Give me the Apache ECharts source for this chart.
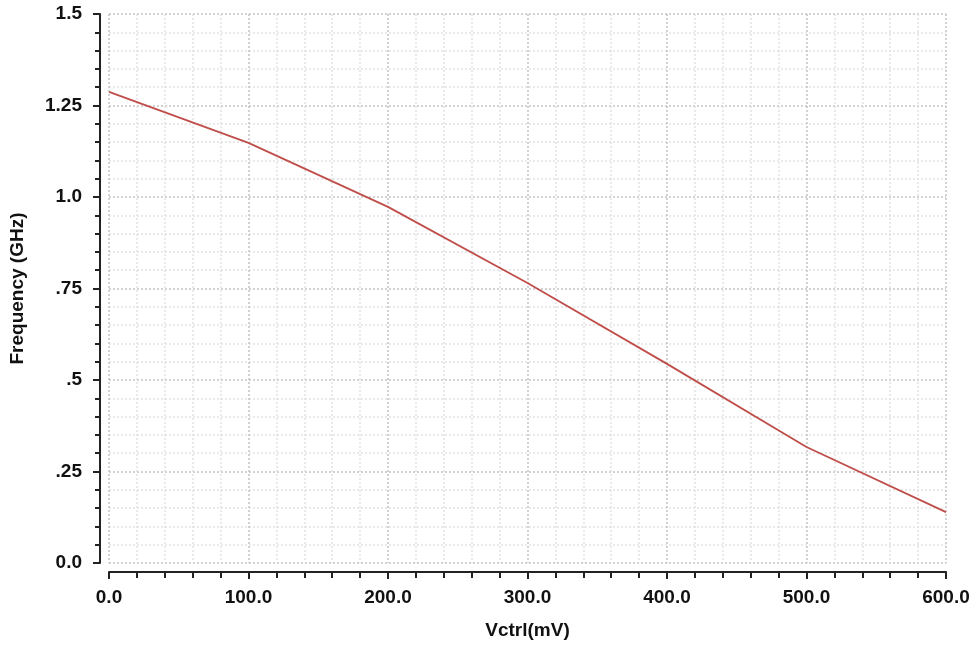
<!DOCTYPE html>
<html><head><meta charset="utf-8">
<script src="https://cdn.jsdelivr.net/npm/echarts@6/dist/echarts.min.js"></script>
<style>html,body{margin:0;padding:0;background:#fff}#c{width:975px;height:648px}</style>
</head><body><div id="c"></div>
<script>
const vctrl = [0, 100, 200, 300, 400, 500, 600];
const freq = [1.287, 1.148, 0.973, 0.765, 0.544, 0.317, 0.139];
const yTickLabels = {"0": "0.0", "0.25": ".25", "0.5": ".5", "0.75": ".75", "1": "1.0", "1.25": "1.25", "1.5": "1.5"};

const font = 'Liberation Sans, Arial, sans-serif';
const textStyle = {fontFamily: font, fontSize: 19, fontWeight: 'bold', color: '#111'};
const chart = echarts.init(document.getElementById('c'));
chart.setOption({
  animation: false,
  grid: {left: 107, right: 29, top: 14, bottom: 85},
  xAxis: {
    type: 'value', min: 0, max: 600, interval: 100, offset: 9,
    name: 'Vctrl(mV)', nameLocation: 'middle', nameGap: 49, nameMoveOverlap: false,
    nameTextStyle: textStyle,
    axisLine: {show: true, onZero: false, lineStyle: {color: '#222', width: 2}},
    axisTick: {show: true, length: 7, lineStyle: {color: '#222', width: 2}},
    minorTick: {show: true, splitNumber: 5, length: 6, lineStyle: {color: '#222', width: 2}},
    axisLabel: Object.assign({margin: 16, formatter: v => v.toFixed(1)}, textStyle),
    splitLine: {show: true, lineStyle: {color: '#c4c4c4', type: [2, 2], width: 1.5}},
    minorSplitLine: {show: true, lineStyle: {color: '#e2e2e2', type: [2, 2], width: 1.5}}
  },
  yAxis: {
    type: 'value', min: 0, max: 1.5, interval: 0.25, offset: 9,
    name: 'Frequency (GHz)', nameLocation: 'middle', nameGap: 73, nameMoveOverlap: false,
    nameTextStyle: textStyle,
    axisLine: {show: true, onZero: false, lineStyle: {color: '#222', width: 2}},
    axisTick: {show: true, length: 7, lineStyle: {color: '#222', width: 2}},
    minorTick: {show: true, splitNumber: 5, length: 5, lineStyle: {color: '#222', width: 2}},
    axisLabel: Object.assign({margin: 18, formatter: v => yTickLabels[String(v)] ?? String(v)}, textStyle),
    splitLine: {show: true, lineStyle: {color: '#c4c4c4', type: [2, 2], width: 1.5}},
    minorSplitLine: {show: true, lineStyle: {color: '#e2e2e2', type: [2, 2], width: 1.5}}
  },
  series: [{
    type: 'line', data: vctrl.map((x, i) => [x, freq[i]]),
    showSymbol: false, lineStyle: {color: '#bf4e4a', width: 1.8}
  }]
});
</script></body></html>
